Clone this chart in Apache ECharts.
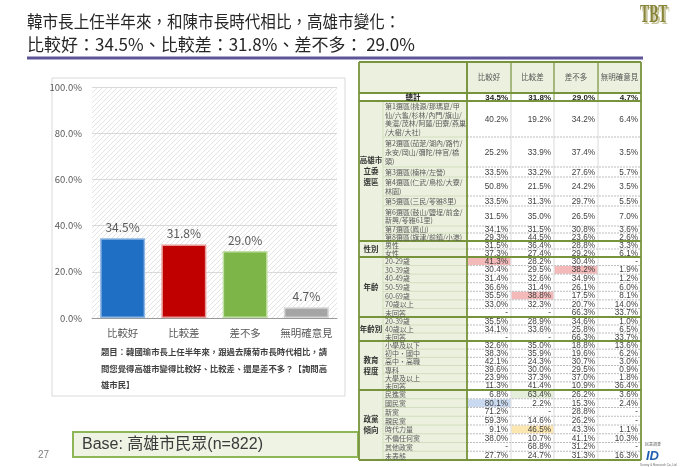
<!DOCTYPE html>
<html><head><meta charset="utf-8">
<script src="https://cdn.jsdelivr.net/npm/echarts/dist/echarts.min.js"></script>
<style>html,body{margin:0;padding:0;background:#fff}#c{width:700px;height:467px}</style>
</head><body><div id="c"></div>
<script>
// ---------------- DATA ----------------
const titleLines = ['韓市長上任半年來，和陳市長時代相比，高雄市變化：', '比較好：34.5%、比較差：31.8%、差不多： 29.0%'];
const categories = ['比較好', '比較差', '差不多', '無明確意見'];
const shares = [34.5, 31.8, 29.0, 4.7];
const questionLines = ['題目：韓國瑜市長上任半年來，跟過去陳菊市長時代相比，請', '問您覺得高雄市變得比較好、比較差、還是差不多？【詢問高', '雄市民】'];
const baseNote = 'Base: 高雄市民眾(n=822)';
const pageNumber = '27';

const tableHeader = ['比較好', '比較差', '差不多', '無明確意見'];
const totalLabel = '總計';
const totalValues = [34.5, 31.8, 29.0, 4.7];
const groupNames = ['高雄市\n立委\n選區', '性別', '年齡', '年齡別', '教育\n程度', '政黨\n傾向'];
const districtLabels = ['第1選區(桃源/那瑪夏/甲\n仙/六龜/杉林/內門/旗山/\n美濃/茂林/阿蓮/田寮/燕巢\n/大樹/大社)', '第2選區(茄萣/湖內/路竹/\n永安/岡山/彌陀/梓官/橋\n頭)', '第3選區(楠梓/左營)', '第4選區(仁武/鳥松/大寮/\n林園)', '第5選區(三民/苓雅8里)', '第6選區(鼓山/鹽埕/前金/\n新興/苓雅61里)', '第7選區(鳳山)', '第8選區(旗津/前鎮/小港)'];
const districtValues = [[40.2, 19.2, 34.2, 6.4], [25.2, 33.9, 37.4, 3.5], [33.5, 33.2, 27.6, 5.7], [50.8, 21.5, 24.2, 3.5], [33.5, 31.3, 29.7, 5.5], [31.5, 35.0, 26.5, 7.0], [34.1, 31.5, 30.8, 3.6], [29.3, 44.5, 23.6, 2.6]];
const genderLabels = ['男性', '女性'];
const genderValues = [[31.5, 36.4, 28.8, 3.3], [37.3, 27.4, 29.2, 6.1]];
const ageLabels = ['20-29歲', '30-39歲', '40-49歲', '50-59歲', '60-69歲', '70歲以上', '未回答'];
const ageValues = [[41.3, 28.2, 30.4, null], [30.4, 29.5, 38.2, 1.9], [31.4, 32.6, 34.9, 1.2], [36.6, 31.4, 26.1, 6.0], [35.5, 38.8, 17.5, 8.1], [33.0, 32.3, 20.7, 14.0], [null, null, 66.3, 33.7]];
const ageBandLabels = ['20-39歲', '40歲以上', '未回答'];
const ageBandValues = [[35.5, 28.9, 34.6, 1.0], [34.1, 33.6, 25.8, 6.5], [null, null, 66.3, 33.7]];
const eduLabels = ['小學及以下', '初中・國中', '高中・高職', '專科', '大學及以上', '未回答'];
const eduValues = [[32.6, 35.0, 18.8, 13.6], [38.3, 35.9, 19.6, 6.2], [42.1, 24.3, 30.7, 3.0], [39.6, 30.0, 29.5, 0.9], [23.9, 37.3, 37.0, 1.8], [11.3, 41.4, 10.9, 36.4]];
const partyLabels = ['民進黨', '國民黨', '新黨', '親民黨', '時代力量', '不偏任何黨', '其他政黨', '未表態'];
const partyValues = [[6.8, 63.4, 26.2, 3.6], [80.1, 2.2, 15.3, 2.4], [71.2, null, 28.8, null], [59.3, 14.6, 26.2, null], [9.1, 46.5, 43.3, 1.1], [38.0, 10.7, 41.1, 10.3], [null, 68.8, 31.2, null], [27.7, 24.7, 31.3, 16.3]];

// ---------------- STYLE / LAYOUT ----------------
const CJK = '"Noto Sans CJK TC", "Noto Sans CJK SC", sans-serif';
const barColors = ['#1f6fc5', '#c00000', '#7db548', '#a5a5a5'];
const barBorders = ['#8fb7e3', '#e69999', '#c2dfa6', '#d6d6d6'];
const GREEN = '#77933c', LABEL_FILL = '#ebf1de';
const cols = [359, 383, 467, 511, 554, 598, 641];
const headTop = 62, headBot = 93, totalBot = 101;
const groupLabels = [districtLabels, genderLabels, ageLabels, ageBandLabels, eduLabels, partyLabels];
const groupValues = [districtValues, genderValues, ageValues, ageBandValues, eduValues, partyValues];
const districtHeights = [36, 30, 10, 19, 10, 20, 7, 8];
const groupHeights = [140, 16, 60, 24, 49, 70];
const highlights = [
  {g: 2, r: 0, c: 0, color: '#f4b9b9'}, {g: 2, r: 1, c: 2, color: '#f4b9b9'}, {g: 2, r: 4, c: 1, color: '#f4b9b9'},
  {g: 5, r: 0, c: 1, color: '#e4eed8'}, {g: 5, r: 1, c: 0, color: '#c9daf0'}, {g: 5, r: 4, c: 1, color: '#fde7b0'}
];

const fmt = v => v == null ? '-' : v.toFixed(1) + '%';
const G = [];
const rect = (x, y, w, h, fill, stroke, lw, z) => G.push({type: 'rect', z: z || 1, shape: {x, y, width: w, height: h}, style: {fill: fill, stroke: stroke || null, lineWidth: lw || 0}, silent: true});
const line = (x1, y1, x2, y2, stroke, lw, dash, z) => G.push({type: 'line', z: z || 3, shape: {x1, y1, x2, y2}, style: {stroke, lineWidth: lw, lineDash: dash || null}, silent: true});
const text = (t, x, y, font, fill, align, extra, el) => G.push(Object.assign({type: 'text', z: 5, silent: true, style: Object.assign({text: t, x, y, font, fill, textAlign: align || 'left', textVerticalAlign: 'middle', align: align || 'left', verticalAlign: 'middle'}, extra || {})}, el || {}));

// title + rule
text(titleLines[0], 0, 0, '17px ' + CJK, '#262626', 'left', null, {x: 27, y: 22, scaleX: 0.915});
text(titleLines[1], 27, 45, '17px ' + CJK, '#262626');
line(27, 58, 643, 58, '#5d5597', 3);
// logos
text('TBT', 0, 0, 'bold 25px "Liberation Serif", serif', '#c9c7a0', 'left', null, {x: 642, y: 18, scaleX: 0.55});
text('TBT', 0, 0, 'bold 25px "Liberation Serif", serif', '#878438', 'left', null, {x: 640, y: 16, scaleX: 0.55});
text('ID', 646, 456, 'italic bold 13px "Liberation Sans", sans-serif', '#1f5fae');
text('民意調查', 645, 444, '4px ' + CJK, '#666');
text('Survey & Research Co.,Ltd', 640, 465, '3px sans-serif', '#666');
text(pageNumber, 38, 455, '10px "Liberation Sans", sans-serif', '#7f7f7f');

// left panel
rect(52, 78, 293, 318, '#ffffff', '#d9d9d9', 1, -5);
questionLines.forEach((q, i) => text(q, 101, 352 + i * 16.5, 'bold 8.4px ' + CJK, '#3f3f3f'));
rect(73, 432, 285, 25, '#eef3e4', '#8db657', 2, 1);
text(baseNote, 82, 445, '16px "Liberation Sans", ' + CJK, '#3a3a3a');

// table: header
rect(cols[0], headTop, cols[6] - cols[0], headBot - headTop, LABEL_FILL, null, 0, 1);
tableHeader.forEach((h, i) => text(h, (cols[i + 2] + cols[i + 3]) / 2, (headTop + headBot) / 2, '7.5px ' + CJK, '#555', 'center'));
for (let i = 2; i <= 5; i++) line(cols[i], headTop, cols[i], headBot, GREEN, 1.2);
// total row
rect(cols[0], headBot, cols[6] - cols[0], totalBot - headBot, '#ffffff', null, 0, 1);
text(totalLabel, (cols[0] + cols[2]) / 2, (headBot + totalBot) / 2 + 0.5, 'bold 7.5px ' + CJK, '#222', 'center');
totalValues.forEach((v, i) => text(fmt(v), cols[i + 3] - 3, (headBot + totalBot) / 2 + 0.5, 'bold 8px "Liberation Sans", sans-serif', '#222', 'right'));
for (let i = 3; i <= 5; i++) line(cols[i], headBot, cols[i], totalBot, GREEN, 1);
line(cols[2], headBot, cols[2], totalBot, GREEN, 1);

// table: body
let y = totalBot;
const groupBounds = [y];
groupLabels.forEach((labels, g) => {
  const n = labels.length;
  const hs = g === 0 ? districtHeights : labels.map(() => groupHeights[g] / n);
  const gTop = y;
  rect(cols[0], gTop, cols[2] - cols[0], groupHeights[g], LABEL_FILL, null, 0, 1);
  labels.forEach((lab, r) => {
    const h = hs[r];
    const cy = y + h / 2;
    rect(cols[2], y, cols[6] - cols[2], h, '#ffffff', null, 0, 1);
    highlights.filter(o => o.g === g && o.r === r).forEach(o => rect(cols[o.c + 2] + 0.5, y + 0.5, cols[o.c + 3] - cols[o.c + 2] - 1, h - 1, o.color, null, 0, 2));
    text(lab, cols[1] + 2, cy + 0.3, '7px ' + CJK, '#5a5a5a', 'left', {lineHeight: 8.6});
    groupValues[g][r].forEach((v, c) => text(fmt(v), cols[c + 3] - 3, cy + 0.3, '8.2px "Liberation Sans", sans-serif', '#404040', 'right'));
    if (r > 0) {
      line(cols[1], y, cols[2], y, '#c9d6b4', 0.7);
      line(cols[2], y, cols[6], y, '#a0a0a0', 0.7, [2, 1]);
    }
    y += h;
  });
  text(groupNames[g], (cols[0] + cols[1]) / 2, gTop + groupHeights[g] / 2, 'bold 7.5px ' + CJK, '#333', 'center', {lineHeight: 11});
  line(cols[1], gTop, cols[1], y, '#c9d6b4', 0.7);
  groupBounds.push(y);
});
const tableBot = y;
for (let i = 3; i <= 5; i++) line(cols[i], totalBot, cols[i], tableBot, '#c8c8c8', 0.7);
// green structure
groupBounds.forEach(b => line(cols[0], b, cols[6], b, GREEN, 1.8, null, 4));
line(cols[0], headBot, cols[6], headBot, GREEN, 1.8, null, 4);
line(cols[0], headTop, cols[6], headTop, GREEN, 1.8, null, 4);
line(cols[0], headTop, cols[0], tableBot, GREEN, 1.8, null, 4);
line(cols[6], headTop, cols[6], tableBot, GREEN, 1.8, null, 4);
line(cols[2], headTop, cols[2], tableBot, GREEN, 1.8, null, 4);

// hatch pattern for plot background
const pat = document.createElement('canvas');
pat.width = 5; pat.height = 5;
const pg = pat.getContext('2d');
pg.fillStyle = '#ffffff'; pg.fillRect(0, 0, 5, 5);
pg.strokeStyle = '#e4e4e4'; pg.lineWidth = 1;
pg.beginPath(); pg.moveTo(-1, 6); pg.lineTo(6, -1); pg.moveTo(-1, 1); pg.lineTo(1, -1); pg.moveTo(4, 6); pg.lineTo(6, 4); pg.stroke();

const chart = echarts.init(document.getElementById('c'), null, {renderer: 'canvas'});
chart.setOption({
  animation: false,
  backgroundColor: '#ffffff',
  textStyle: {fontFamily: CJK},
  grid: {left: 92, right: 363, top: 87, bottom: 149, show: true, backgroundColor: {image: pat, repeat: 'repeat'}, borderWidth: 0},
  xAxis: {
    type: 'category', data: categories,
    axisLine: {lineStyle: {color: '#9a9a9a', width: 1}},
    axisTick: {show: false},
    axisLabel: {color: '#595959', fontSize: 10.5, margin: 10, interval: 0}
  },
  yAxis: {
    type: 'value', min: 0, max: 100, interval: 20,
    axisLabel: {color: '#595959', fontSize: 9.5, margin: 10, formatter: v => v.toFixed(1) + '%'},
    splitLine: {lineStyle: {color: '#d9d9d9'}},
    axisLine: {show: false}, axisTick: {show: false}
  },
  series: [{
    type: 'bar', barWidth: 45, z: 3,
    data: shares.map((v, i) => ({value: v, itemStyle: {color: barColors[i], borderColor: barBorders[i], borderWidth: 1.5}})),
    label: {show: true, position: 'top', distance: 5, color: '#595959', fontSize: 12, formatter: p => p.value.toFixed(1) + '%'}
  }],
  graphic: G
});
</script></body></html>
